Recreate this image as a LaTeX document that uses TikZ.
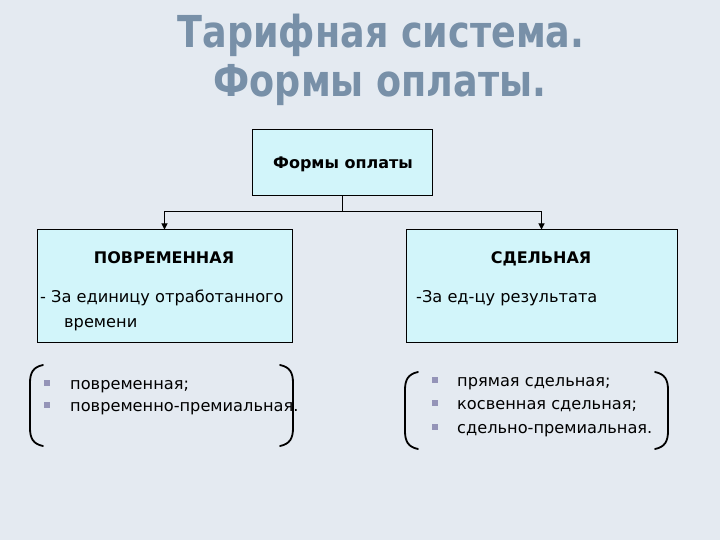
\documentclass[tikz,border=0pt]{standalone}
\usepackage{fontspec}
\setmainfont{DejaVu Sans}
\usetikzlibrary{arrows.meta}
\definecolor{bg}{HTML}{E4EAF1}
\definecolor{titlec}{HTML}{7890A8}
\definecolor{boxc}{HTML}{D2F5FA}
\definecolor{bulc}{HTML}{9494B8}
\newcommand{\ttlsq}[1]{\scalebox{0.83}[1]{#1}}
\begin{document}
\begin{tikzpicture}[x=1pt,y=-1pt,
  titlestyle/.style={anchor=base,text=titlec,font=\fontsize{44}{48}\selectfont\bfseries,inner sep=0pt},
  box/.style={draw=black,line width=1pt,fill=boxc,inner sep=0pt},
  head/.style={anchor=base,font=\fontsize{16}{18}\selectfont\bfseries,inner sep=0pt},
  txt/.style={anchor=base west,font=\fontsize{16.2}{18}\selectfont,inner sep=0pt},
  bul/.style={fill=bulc,minimum size=6pt,inner sep=0pt},
  conn/.style={line width=1pt},
  arr/.style={line width=1pt,-{Triangle[length=6pt,width=6pt]}},
  brk/.style={line width=1.8pt,line cap=round}]
\fill[bg] (0,0) rectangle (720,540);
\useasboundingbox (0,0) rectangle (720,540);
% title
\node[titlestyle] (t1) at (381,48) {\ttlsq{Тарифная система.}};
\node[titlestyle] (t2) at (380,97) {\ttlsq{Формы оплаты.}};
% boxes
\node[box,minimum width=180pt,minimum height=66pt] (top) at (342,163) {};
\node[head] (toptxt) at (343,169) {Формы оплаты};
\node[box,minimum width=255pt,minimum height=112pt] (lbox) at (164.5,286) {};
\node[box,minimum width=271pt,minimum height=112pt] (rbox) at (541.5,286) {};
% connectors
\coordinate (j) at (342,212);
\draw[conn] (top.south) -- (j);
\draw[arr] (j) -| (lbox.north);
\draw[arr] (j) -| (rbox.north);
% box texts
\node[head] (lh) at (164,263) {ПОВРЕМЕННАЯ};
\node[txt] (l1) at (40,302) {- За единицу отработанного};
\node[txt] (l2) at (64,327) {времени};
\node[head] (rh) at (541,263) {СДЕЛЬНАЯ};
\node[txt] (r1) at (416,302) {-За ед-цу результата};
% left list
\node[bul] (lb1) at (47,383) {};
\node[bul] (lb2) at (47,405) {};
\node[txt] (li1) at (70,389) {повременная;};
\node[txt] (li2) at (70,411) {повременно-премиальная.};
% right list
\node[bul] (rb1) at (435,380) {};
\node[bul] (rb2) at (435,403) {};
\node[bul] (rb3) at (435,427) {};
\node[txt] (ri1) at (457,386) {прямая сдельная;};
\node[txt] (ri2) at (457,409) {косвенная сдельная;};
\node[txt] (ri3) at (457,433) {сдельно-премиальная.};
% brackets
\draw[brk] (43,365) .. controls (33,367) and (30,373) .. (30,383) -- (30,428) .. controls (30,438) and (33,444) .. (43,446);
\draw[brk] (280,365) .. controls (290,367) and (293,373) .. (293,383) -- (293,428) .. controls (293,438) and (290,444) .. (280,446);
\draw[brk] (418,372) .. controls (408,374) and (405,380) .. (405,390) -- (405,431) .. controls (405,441) and (408,447) .. (418,449);
\draw[brk] (655,372) .. controls (665,374) and (668,380) .. (668,390) -- (668,431) .. controls (668,441) and (665,447) .. (655,449);
\end{tikzpicture}
\end{document}
